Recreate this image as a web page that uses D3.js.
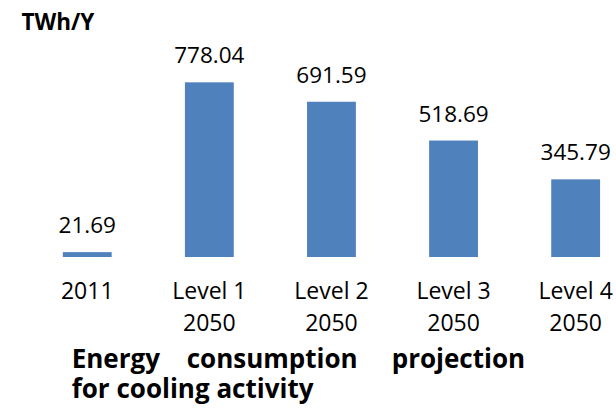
<!DOCTYPE html>
<html>
<head>
<meta charset="utf-8">
<script src="https://cdn.jsdelivr.net/npm/d3@7"></script>
<style>
  html, body { margin: 0; padding: 0; background: #fff; }
  svg { display: block; }
  text { font-family: "Open Sans", sans-serif; fill: #000; }
</style>
</head>
<body>
<svg id="chart" width="616" height="411"></svg>
<script>
// Cooling energy consumption, TWh per year
const categories = ["2011", "Level 1 2050", "Level 2 2050", "Level 3 2050", "Level 4 2050"];
const tickLabels = [["2011"], ["Level 1", "2050"], ["Level 2", "2050"], ["Level 3", "2050"], ["Level 4", "2050"]];
const values = [21.69, 778.04, 691.59, 518.69, 345.79];
const unitLabel = "TWh/Y";
const titleLine1 = ["Energy", "consumption", "projection"];
const titleLine2 = "for cooling activity";

const svg = d3.select("#chart");
const baseY = 257;

const x = d3.scaleBand()
  .domain(categories)
  .range([26.2, 636.7])
  .paddingInner(0.6)
  .paddingOuter(0.3);

const y = d3.scaleLinear()
  .domain([0, 800])
  .range([baseY, baseY - 179.6]);

// bars
svg.append("g")
  .selectAll("rect")
  .data(values)
  .join("rect")
  .attr("x", (d, i) => x(categories[i]))
  .attr("width", x.bandwidth())
  .attr("y", d => y(d))
  .attr("height", d => y(0) - y(d))
  .attr("fill", "#4F81BD");

// value labels
svg.append("g")
  .selectAll("text")
  .data(values)
  .join("text")
  .attr("x", (d, i) => x(categories[i]) + x.bandwidth() / 2)
  .attr("y", d => y(d) - 19)
  .attr("text-anchor", "middle")
  .style("font-size", "22.5px")
  .text(d => d.toFixed(2));

// category axis, two-line labels
const axis = svg.append("g")
  .attr("transform", `translate(0,${baseY})`)
  .call(d3.axisBottom(x).tickSize(0).tickFormat(""));
axis.select(".domain").remove();
axis.selectAll(".tick").each(function (d, i) {
  const t = d3.select(this).append("text")
    .attr("text-anchor", "middle")
    .style("font-size", "23px");
  tickLabels[i].forEach((line, j) => {
    t.append("tspan").attr("x", 0).attr("y", 42 + j * 31.5).text(line);
  });
});

// unit label
svg.append("text")
  .attr("x", 21.5)
  .attr("y", 30)
  .style("font-size", "22.5px")
  .style("font-weight", "bold")
  .text(unitLabel);

// caption, first line justified
const captionX = [71.7, 186.7, 391.7];
svg.append("g")
  .selectAll("text")
  .data(titleLine1)
  .join("text")
  .attr("x", (d, i) => captionX[i])
  .attr("y", 367.5)
  .style("font-size", "26px")
  .style("font-weight", "bold")
  .text(d => d);

svg.append("text")
  .attr("x", 71.7)
  .attr("y", 398)
  .style("font-size", "26px")
  .style("font-weight", "bold")
  .text(titleLine2);
</script>
</body>
</html>
